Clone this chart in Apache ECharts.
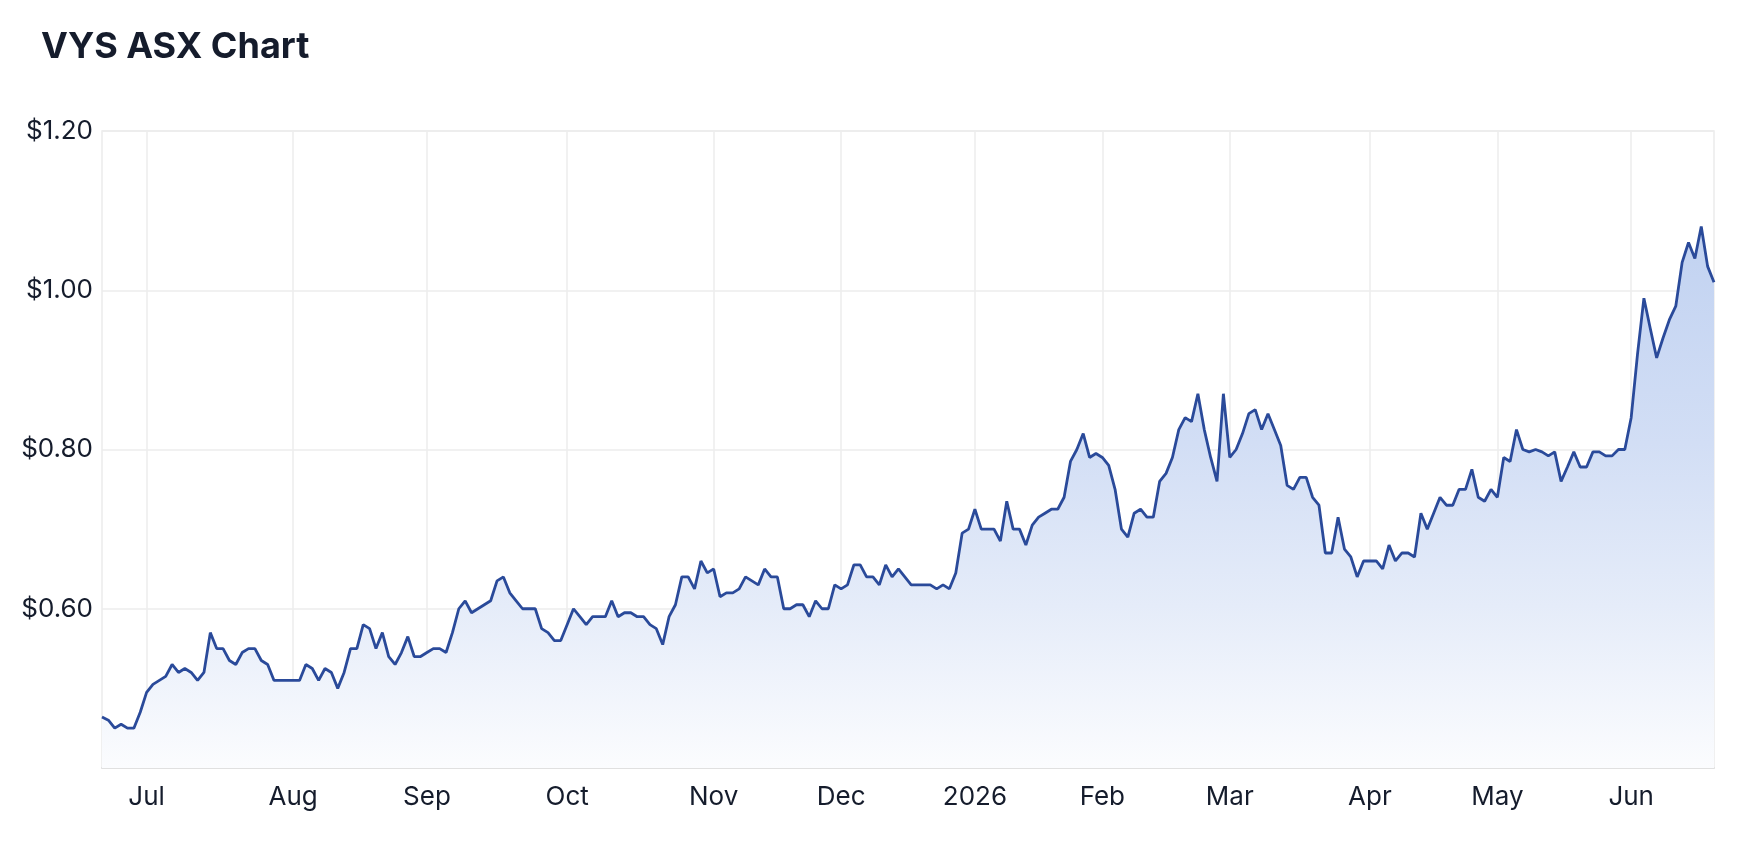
<!doctype html>
<html lang="en">
<head>
<meta charset="UTF-8"/>
<title>VYS ASX Chart</title>
<script src="https://cdn.jsdelivr.net/npm/echarts@6/dist/echarts.min.js"></script>
<style>
html, body { margin: 0; padding: 0; background: #fff; }
#chart { width: 1762px; height: 842px; }
</style>
</head>
<body>

<div id="chart"></div>

<script>

// trading calendar (ASX), first and last session shown
var startDate = '2025-06-20';
var endDate = '2026-06-19';
var holidays = ['2025-12-25', '2025-12-26', '2026-01-01', '2026-01-26', '2026-04-03', '2026-04-06', '2026-06-08'];

var monthNames = ['Jan', 'Feb', 'Mar', 'Apr', 'May', 'Jun', 'Jul', 'Aug', 'Sep', 'Oct', 'Nov', 'Dec'];

// closing prices, one per session
var prices = [
  0.464, 0.460, 0.450, 0.455, 0.450, 0.450, 0.470, 0.495, 0.505, 0.510,
  0.515, 0.530, 0.520, 0.525, 0.520, 0.510, 0.520, 0.570, 0.550, 0.550,
  0.535, 0.530, 0.545, 0.550, 0.550, 0.535, 0.530, 0.510, 0.510, 0.510,
  0.510, 0.510, 0.530, 0.525, 0.510, 0.525, 0.520, 0.500, 0.520, 0.550,
  0.550, 0.580, 0.575, 0.550, 0.570, 0.540, 0.530, 0.545, 0.565, 0.540,
  0.540, 0.545, 0.550, 0.550, 0.545, 0.570, 0.600, 0.610, 0.595, 0.600,
  0.605, 0.610, 0.635, 0.640, 0.620, 0.610, 0.600, 0.600, 0.600, 0.575,
  0.570, 0.560, 0.560, 0.580, 0.600, 0.590, 0.580, 0.590, 0.590, 0.590,
  0.610, 0.590, 0.595, 0.595, 0.590, 0.590, 0.580, 0.575, 0.555, 0.590,
  0.605, 0.640, 0.640, 0.625, 0.660, 0.645, 0.650, 0.615, 0.620, 0.620,
  0.625, 0.640, 0.635, 0.630, 0.650, 0.640, 0.640, 0.600, 0.600, 0.605,
  0.605, 0.590, 0.610, 0.600, 0.600, 0.630, 0.625, 0.630, 0.655, 0.655,
  0.640, 0.640, 0.630, 0.655, 0.640, 0.650, 0.640, 0.630, 0.630, 0.630,
  0.630, 0.625, 0.630, 0.625, 0.645, 0.695, 0.700, 0.725, 0.700, 0.700,
  0.700, 0.685, 0.735, 0.700, 0.700, 0.680, 0.705, 0.715, 0.720, 0.725,
  0.725, 0.740, 0.785, 0.800, 0.820, 0.790, 0.795, 0.790, 0.780, 0.750,
  0.700, 0.690, 0.720, 0.725, 0.715, 0.715, 0.760, 0.770, 0.790, 0.825,
  0.840, 0.835, 0.870, 0.825, 0.790, 0.760, 0.870, 0.790, 0.800, 0.820,
  0.845, 0.850, 0.825, 0.845, 0.825, 0.805, 0.755, 0.750, 0.765, 0.765,
  0.740, 0.730, 0.670, 0.670, 0.715, 0.675, 0.665, 0.640, 0.660, 0.660,
  0.660, 0.650, 0.680, 0.660, 0.670, 0.670, 0.665, 0.720, 0.700, 0.720,
  0.740, 0.730, 0.730, 0.750, 0.750, 0.775, 0.740, 0.735, 0.750, 0.740,
  0.790, 0.785, 0.825, 0.800, 0.797, 0.800, 0.797, 0.792, 0.797, 0.760,
  0.778, 0.797, 0.778, 0.778, 0.797, 0.797, 0.792, 0.792, 0.800, 0.800,
  0.840, 0.920, 0.990, 0.952, 0.915, 0.940, 0.963, 0.980, 1.035, 1.060,
  1.040, 1.080, 1.030, 1.010
];

function tradingDays(from, to, skip) {
  var out = [];
  var d = new Date(from + 'T00:00:00Z');
  var end = new Date(to + 'T00:00:00Z');
  while (d <= end) {
    var s = d.toISOString().slice(0, 10);
    var wd = d.getUTCDay();
    if (wd !== 0 && wd !== 6 && skip.indexOf(s) < 0) out.push(s);
    d.setUTCDate(d.getUTCDate() + 1);
  }
  return out;
}

var days = tradingDays(startDate, endDate, holidays);

// first session of each month gets a label and a grid line
function monthStart(i) {
  return i > 0 && days[i].slice(5, 7) !== days[i - 1].slice(5, 7);
}

var textColor = '#151c2c';
var gridColor = '#ececec';

var myChart = echarts.init(document.getElementById('chart'), null, { renderer: 'canvas' });

var option = {
  animation: false,
  backgroundColor: '#fff',
  title: {
    text: 'VYS ASX Chart',
    left: 36,
    top: 24,
    textStyle: {
      fontFamily: 'Inter',
      fontSize: 36,
      fontWeight: 'bold',
      color: textColor
    }
  },
  grid: {
    left: 102,
    right: 48,
    top: 131,
    bottom: 74,
    show: true,
    borderColor: gridColor,
    borderWidth: 1.5,
    outerBoundsMode: 'none'
  },
  xAxis: {
    type: 'category',
    data: days,
    boundaryGap: false,
    axisLine: {
      lineStyle: { color: '#e0e0e0', width: 2 }
    },
    axisTick: { show: false },
    axisLabel: {
      interval: function (index) { return monthStart(index); },
      margin: 16,
      fontFamily: 'Inter',
      fontSize: 26,
      color: textColor,
      formatter: function (value) {
        var m = +value.slice(5, 7);
        return m === 1 ? value.slice(0, 4) : monthNames[m - 1];
      }
    },
    splitLine: {
      show: true,
      interval: function (index) { return monthStart(index); },
      lineStyle: { color: gridColor, width: 1.5 }
    }
  },
  yAxis: {
    type: 'value',
    min: 0.4,
    max: 1.2,
    interval: 0.2,
    axisLine: { show: false },
    axisTick: { show: false },
    axisLabel: {
      margin: 9,
      fontFamily: 'Inter',
      fontSize: 26,
      color: textColor,
      formatter: function (v) {
        return v < 0.5 ? '' : '$' + v.toFixed(2);
      }
    },
    splitLine: {
      lineStyle: { color: gridColor, width: 1.5 }
    }
  },
  series: [
    {
      name: 'VYS',
      type: 'line',
      data: prices,
      showSymbol: false,
      symbol: 'none',
      lineStyle: { color: '#2a4a9a', width: 2.8 },
      areaStyle: {
        opacity: 1,
        color: new echarts.graphic.LinearGradient(0, 0, 0, 1, [
          { offset: 0, color: '#c1d2f1' },
          { offset: 0.4, color: '#d2def5' },
          { offset: 0.7, color: '#e5ecf9' },
          { offset: 1, color: '#fbfcfe' }
        ])
      }
    }
  ]
};

myChart.setOption(option);

</script>

</body>
</html>
